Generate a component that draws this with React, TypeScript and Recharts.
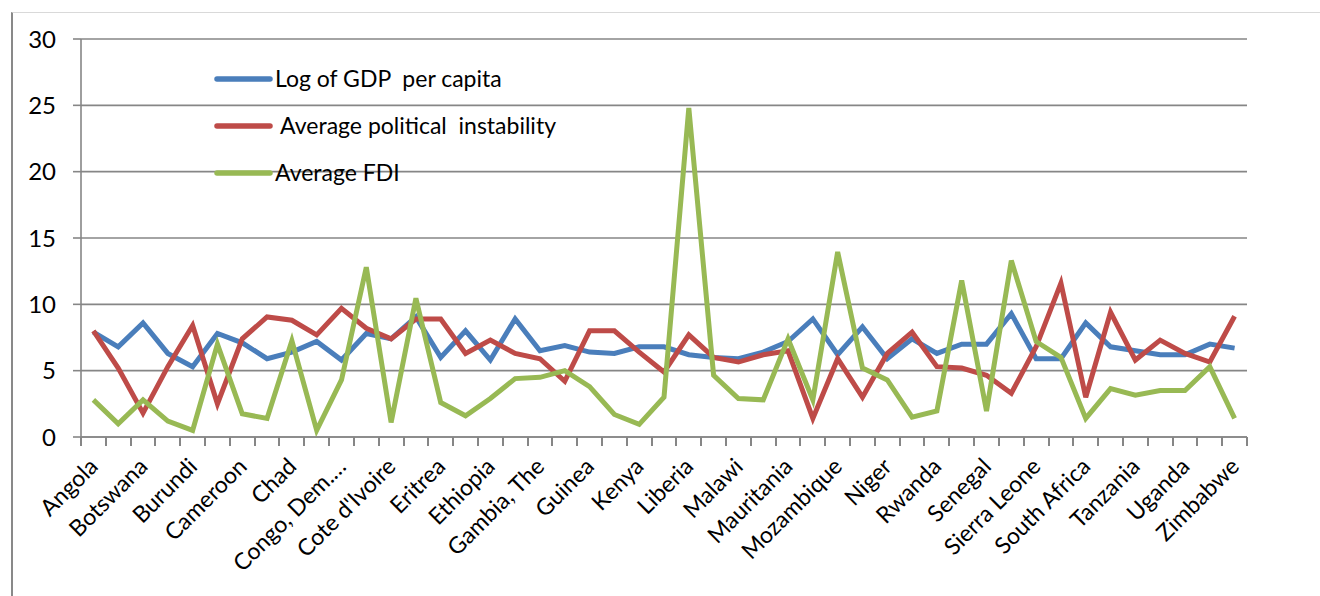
import { CartesianGrid, Legend, Line, LineChart, XAxis, YAxis } from "recharts";

const FONT = "Lato, 'Open Sans', sans-serif";
const GRID = "#868686";
const FS = 23;

const CHART_W = 1320;
const CHART_H = 596;
const Y_AXIS_W = 81;
const MARGIN = { top: 39, right: 73, bottom: 0, left: 0 };

const COUNTRIES = [
  "Angola", "Benin", "Botswana", "Burkina Faso", "Burundi", "Cabo Verde", "Cameroon",
  "Central African Republic", "Chad", "Comoros", "Congo, Dem. Rep.", "Congo, Rep.",
  "Cote d'Ivoire", "Equatorial Guinea", "Eritrea", "Eswatini", "Ethiopia", "Gabon",
  "Gambia, The", "Ghana", "Guinea", "Guinea-Bissau", "Kenya", "Lesotho", "Liberia",
  "Madagascar", "Malawi", "Mali", "Mauritania", "Mauritius", "Mozambique", "Namibia",
  "Niger", "Nigeria", "Rwanda", "Sao Tome and Principe", "Senegal", "Seychelles",
  "Sierra Leone", "Somalia", "South Africa", "Sudan", "Tanzania", "Togo", "Uganda",
  "Zambia", "Zimbabwe",
];

const GDP = [
  7.9, 6.8, 8.6, 6.3, 5.3, 7.8, 7.1, 5.9, 6.4, 7.2, 5.8, 7.8, 7.4, 9.05, 6.0, 8.0,
  5.8, 8.9, 6.5, 6.9, 6.4, 6.3, 6.8, 6.8, 6.2, 6.0, 5.9, 6.4, 7.2, 8.9, 6.2, 8.3,
  5.9, 7.4, 6.3, 7.0, 7.0, 9.3, 5.9, 5.9, 8.6, 6.8, 6.5, 6.2, 6.2, 7.0, 6.7,
];

const INSTABILITY = [
  8.0, 5.2, 1.8, 5.3, 8.4, 2.5, 7.4, 9.05, 8.8, 7.7, 9.7, 8.2, 7.4, 8.9, 8.9, 6.3,
  7.3, 6.3, 5.9, 4.2, 8.0, 8.0, 6.4, 4.9, 7.7, 6.0, 5.65, 6.2, 6.5, 1.4, 5.9, 3.0,
  6.3, 7.9, 5.3, 5.2, 4.65, 3.3, 6.8, 11.6, 3.0, 9.4, 5.8, 7.3, 6.3, 5.65, 9.1,
];

const FDI = [
  2.8, 1.0, 2.8, 1.2, 0.5, 7.0, 1.75, 1.4, 7.25, 0.5, 4.3, 12.8, 1.1, 10.45, 2.6, 1.6,
  2.9, 4.4, 4.5, 5.0, 3.8, 1.7, 0.95, 3.0, 24.8, 4.65, 2.9, 2.8, 7.4, 2.8, 13.95, 5.2,
  4.3, 1.5, 1.96, 11.8, 1.96, 13.3, 7.2, 6.0, 1.4, 3.65, 3.15, 3.5, 3.5, 5.3, 1.4,
];

const Y_TICKS = [0, 5, 10, 15, 20, 25, 30];

const SERIES = [
  { key: "gdp", name: "Log of GDP  per capita", color: "#4A7EBB" },
  { key: "instability", name: " Average political  instability", color: "#BE4B48" },
  { key: "fdi", name: "Average FDI", color: "#98B954" },
];

const data = COUNTRIES.map((country, i) => ({
  country,
  gdp: GDP[i],
  instability: INSTABILITY[i],
  fdi: FDI[i],
}));

// one category band; Excel puts the x tick marks on band boundaries
const BAND = (CHART_W - Y_AXIS_W - MARGIN.right) / COUNTRIES.length;

function CountryTick(props: any) {
  const { x, y, payload, index } = props;
  const cx = Number(x);
  const cy = Number(y);
  const raw: string = payload.value;
  const label = raw.length > 14 ? raw.slice(0, 11) + "…" : raw;
  // the first tick draws every boundary mark in one path
  let marks = "";
  if (index === 0) {
    for (let i = 0; i <= COUNTRIES.length; i++) {
      const bx = Math.round(cx - BAND / 2 + i * BAND);
      marks += `M${bx},${cy}v9`;
    }
  }
  return (
    <g>
      {index === 0 && <path d={marks} stroke={GRID} strokeWidth={2} fill="none" />}
      {index % 2 === 0 && (
        <text
          x={0}
          y={0}
          transform={`translate(${cx + 6},${cy + 31}) rotate(-45)`}
          textAnchor="end"
          fontSize={FS}
          fontFamily={FONT}
          fill="#000"
        >
          {label}
        </text>
      )}
    </g>
  );
}

function LegendBox() {
  return (
    <svg width={420} height={140} style={{ overflow: "visible" }}>
      {SERIES.map((s, i) => (
        <g key={s.key} transform={`translate(0,${i * 47})`}>
          <line x1={3} x2={56} y1={20} y2={20} stroke={s.color} strokeWidth={5.5} strokeLinecap="round" />
          <text x={61} y={20} dy="0.35em" fontSize={FS} fontFamily={FONT} fill="#000" style={{ whiteSpace: "pre" }}>
            {s.name}
          </text>
        </g>
      ))}
    </svg>
  );
}

export default function App() {
  return (
    <div style={{ position: "absolute", left: 0, top: 0, width: CHART_W, height: CHART_H, background: "#fff" }}>
      <div
        style={{
          position: "absolute",
          left: 11,
          top: 12,
          width: 1320,
          height: 600,
          borderLeft: "2px solid #898989",
          borderTop: "1px solid #d9d9d9",
        }}
      />
      <LineChart
        width={CHART_W}
        height={CHART_H}
        data={data}
        margin={MARGIN}
        style={{ position: "absolute", left: 0, top: 0, fontFamily: FONT }}
      >
        <CartesianGrid vertical={false} stroke={GRID} strokeWidth={1.6} />
        <XAxis
          dataKey="country"
          scale="band"
          interval={0}
          tick={<CountryTick />}
          tickLine={false}
          tickSize={0}
          tickMargin={0}
          height={159}
          axisLine={{ stroke: GRID, strokeWidth: 1.6 }}
        />
        <YAxis
          domain={[0, 30]}
          ticks={Y_TICKS}
          width={Y_AXIS_W}
          tickSize={8}
          tickMargin={17}
          stroke={GRID}
          strokeWidth={1.6}
          tick={{ fontSize: 24, fill: "#000", fontFamily: FONT }}
        />
        <Legend
          layout="vertical"
          align="center"
          verticalAlign="middle"
          content={<LegendBox />}
          wrapperStyle={{ left: 214, top: 59, width: 420 }}
        />
        {SERIES.map((s) => (
          <Line
            key={s.key}
            type="linear"
            dataKey={s.key}
            name={s.name}
            stroke={s.color}
            strokeWidth={5}
            dot={false}
            activeDot={false}
            isAnimationActive={false}
          />
        ))}
      </LineChart>
    </div>
  );
}
